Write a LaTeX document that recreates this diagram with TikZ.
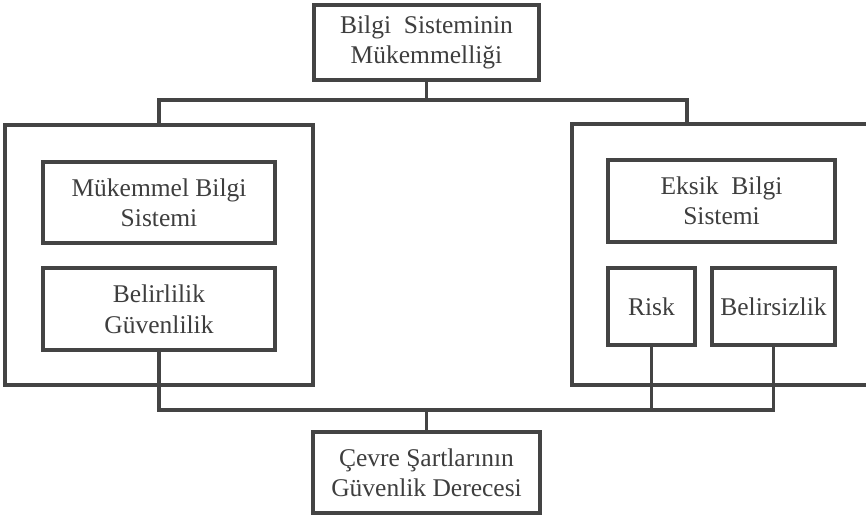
\documentclass[tikz,border=0pt]{standalone}
\usepackage{fontspec}
\setmainfont{Liberation Serif}
\definecolor{linec}{RGB}{68,68,68}
\definecolor{textc}{RGB}{62,62,62}
\begin{document}
\begin{tikzpicture}[x=1pt,y=-1pt,
  box/.style={draw=linec, line width=3.8pt, rectangle, inner sep=0pt, align=center,
    text=textc, font=\fontsize{25.5}{30}\selectfont},
  conn/.style={draw=linec, line width=3.8pt}]
\useasboundingbox (0,0) rectangle (866,519);
\fill[white] (0,0) rectangle (866,519);
% outer containers
\node[box, minimum width=308pt, minimum height=260pt] (leftsys) at (159,255) {};
\node[box, minimum width=303pt, minimum height=261pt] (rightsys) at (723.5,254.5) {};
% boxes
\node[box, minimum width=225pt, minimum height=75pt] (top) at (426.5,42.5) {Bilgi\ \ Sisteminin\\Mükemmelliği};
\node[box, minimum width=232pt, minimum height=81pt] (mukem) at (159,202.5) {Mükemmel Bilgi\\Sistemi};
\node[box, minimum width=232pt, minimum height=82pt, font=\fontsize{25.5}{31}\selectfont] (belir) at (159,309) {Belirlilik\\Güvenlilik};
\node[box, minimum width=227pt, minimum height=82pt] (eksik) at (721.5,201) {Eksik\ \ Bilgi\\Sistemi};
\node[box, minimum width=87pt, minimum height=77pt] (risk) at (651.5,306.5) {Risk};
\node[box, minimum width=123pt, minimum height=77pt] (belirs) at (773.5,306.5) {Belirsizlik};
\node[box, minimum width=227pt, minimum height=81pt] (cevre) at (426.5,472.5) {Çevre Şartlarının\\Güvenlik Derecesi};
% junctions
\coordinate (tj) at (426.5,100);
\coordinate (rt) at (687,0);
\coordinate (bj) at (426.5,410);
% connectors
\draw[conn] (top.south) -- (tj);
\draw[conn] (leftsys.north) |- (tj) -| (rt |- rightsys.north);
\draw[conn] (belir.south) |- (bj) -| (belirs.south);
\draw[conn] (risk.south) -- (risk.south |- bj);
\draw[conn] (bj) -- (cevre.north);
\end{tikzpicture}
\end{document}
